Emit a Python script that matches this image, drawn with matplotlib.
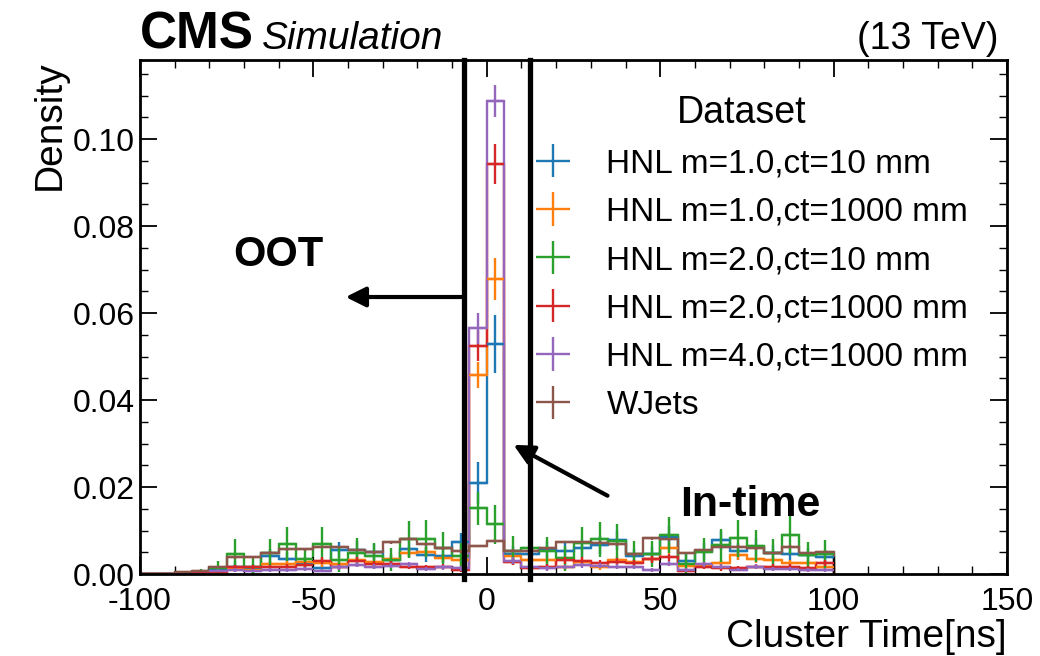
import numpy as np
import matplotlib
matplotlib.use("Agg")
import matplotlib.pyplot as plt

plt.rcParams['font.family'] = ['Liberation Sans', 'DejaVu Sans']
plt.rcParams['axes.unicode_minus'] = False

# 40 bins of 5 ns from -100 to 100
bin_edges = np.arange(-100, 101, 5)

labels = [
    "HNL m=1.0,ct=10 mm",
    "HNL m=1.0,ct=1000 mm",
    "HNL m=2.0,ct=10 mm",
    "HNL m=2.0,ct=1000 mm",
    "HNL m=4.0,ct=1000 mm",
    "WJets",
]
colors = ["#1f77b4", "#ff7f0e", "#2ca02c", "#d62728", "#9467bd", "#8c564b"]

hnl_m1_ct10 = [0, 0, 0, 0.0003, 0.0009, 0.0017, 0.0012, 0.0041, 0.0034, 0.0026,
               0.0014, 0.0055, 0.0056, 0.0050, 0.0032, 0.0058, 0.0044, 0.0042, 0.0073, 0.0209,
               0.0529, 0.0046, 0.0046, 0.0056, 0.0054, 0.0059, 0.0066, 0.0078, 0.0041, 0.0045,
               0.0086, 0.0031, 0.0052, 0.0078, 0.0052, 0.0062, 0.0048, 0.0047, 0.0043, 0.0040]
hnl_m1_ct1000 = [0, 0, 0, 0.0002, 0.0005, 0.0012, 0.0010, 0.0022, 0.0022, 0.0028,
                 0.0026, 0.0024, 0.0032, 0.0028, 0.0034, 0.0049, 0.0050, 0.0037, 0.0032, 0.0458,
                 0.0678, 0.0041, 0.0032, 0.0033, 0.0015, 0.0028, 0.0015, 0.0032, 0.0027, 0.0034,
                 0.0059, 0.0018, 0.0021, 0.0025, 0.0044, 0.0034, 0.0033, 0.0025, 0.0025, 0.0017]
hnl_m2_ct10 = [0, 0, 0, 0.0002, 0.0013, 0.0046, 0.0016, 0.0048, 0.0069, 0.0035,
               0.0069, 0.0033, 0.0049, 0.0041, 0.0033, 0.0080, 0.0081, 0.0059, 0.0042, 0.0151,
               0.0114, 0.0054, 0.0059, 0.0052, 0.0036, 0.0072, 0.0080, 0.0075, 0.0045, 0.0046,
               0.0090, 0.0023, 0.0050, 0.0066, 0.0082, 0.0064, 0.0049, 0.0090, 0.0043, 0.0046]
hnl_m2_ct1000 = [0, 0, 0, 0.0002, 0.0004, 0.0015, 0.0015, 0.0015, 0.0016, 0.0021,
                 0.0030, 0.0016, 0.0030, 0.0024, 0.0022, 0.0017, 0.0015, 0.0017, 0.0010, 0.0525,
                 0.0944, 0.0028, 0.0014, 0.0016, 0.0032, 0.0031, 0.0025, 0.0028, 0.0025, 0.0034,
                 0.0038, 0.0008, 0.0017, 0.0013, 0.0013, 0.0017, 0.0017, 0.0017, 0.0013, 0.0025]
hnl_m4_ct1000 = [0, 0, 0, 0.0001, 0.0008, 0.0009, 0.0008, 0.0009, 0.0009, 0.0012,
                 0.0008, 0.0015, 0.0021, 0.0017, 0.0019, 0.0022, 0.0012, 0.0015, 0.0013, 0.0565,
                 0.1088, 0.0031, 0.0015, 0.0013, 0.0016, 0.0020, 0.0019, 0.0017, 0.0016, 0.0009,
                 0.0024, 0.0009, 0.0022, 0.0017, 0.0010, 0.0017, 0.0012, 0.0012, 0.0009, 0.0009]
wjets = [0, 0, 0.0004, 0.0008, 0.0016, 0.0038, 0.0038, 0.0049, 0.0057, 0.0057,
         0.0062, 0.0062, 0.0055, 0.0050, 0.0073, 0.0081, 0.0068, 0.0059, 0.0052, 0.0064,
         0.0076, 0.0054, 0.0054, 0.0059, 0.0074, 0.0074, 0.0072, 0.0068, 0.0045, 0.0082,
         0.0080, 0.0048, 0.0055, 0.0063, 0.0063, 0.0059, 0.0048, 0.0063, 0.0048, 0.0051]

# vertical error bars
err_m1_ct10 = [0, 0, 0, 0.0005, 0.0008, 0.0012, 0.0010, 0.0017, 0.0016, 0.0014,
               0.0010, 0.0019, 0.0019, 0.0018, 0.0015, 0.0019, 0.0017, 0.0017, 0.0021, 0.0048,
               0.0067, 0.0018, 0.0018, 0.0019, 0.0019, 0.0020, 0.0021, 0.0022, 0.0017, 0.0017,
               0.0024, 0.0015, 0.0019, 0.0022, 0.0019, 0.0020, 0.0018, 0.0018, 0.0017, 0.0016]
err_m1_ct1000 = [0, 0, 0, 0.0002, 0.0004, 0.0006, 0.0005, 0.0008, 0.0008, 0.0009,
                 0.0009, 0.0008, 0.0009, 0.0009, 0.0010, 0.0011, 0.0011, 0.0010, 0.0009, 0.0030,
                 0.0048, 0.0010, 0.0009, 0.0009, 0.0006, 0.0009, 0.0006, 0.0009, 0.0008, 0.0009,
                 0.0012, 0.0007, 0.0008, 0.0008, 0.0011, 0.0009, 0.0009, 0.0008, 0.0008, 0.0007]
err_m2_ct10 = [0, 0, 0, 0.0010, 0.0017, 0.0035, 0.0018, 0.0033, 0.0040, 0.0025,
               0.0040, 0.0028, 0.0033, 0.0030, 0.0027, 0.0043, 0.0043, 0.0037, 0.0030, 0.0038,
               0.0044, 0.0034, 0.0040, 0.0034, 0.0029, 0.0036, 0.0040, 0.0040, 0.0031, 0.0031,
               0.0042, 0.0022, 0.0033, 0.0038, 0.0042, 0.0037, 0.0032, 0.0044, 0.0030, 0.0032]
err_m2_ct1000 = [0, 0, 0, 0.0002, 0.0003, 0.0006, 0.0006, 0.0006, 0.0006, 0.0007,
                 0.0008, 0.0006, 0.0008, 0.0007, 0.0007, 0.0006, 0.0006, 0.0006, 0.0005, 0.0036,
                 0.0046, 0.0008, 0.0006, 0.0006, 0.0008, 0.0008, 0.0007, 0.0008, 0.0007, 0.0008,
                 0.0009, 0.0004, 0.0006, 0.0005, 0.0005, 0.0006, 0.0006, 0.0006, 0.0005, 0.0007]
err_m4_ct1000 = [0, 0, 0, 0.0001, 0.0004, 0.0004, 0.0004, 0.0004, 0.0004, 0.0005,
                 0.0004, 0.0005, 0.0006, 0.0005, 0.0006, 0.0006, 0.0005, 0.0005, 0.0005, 0.0035,
                 0.0036, 0.0007, 0.0005, 0.0005, 0.0005, 0.0006, 0.0006, 0.0005, 0.0005, 0.0004,
                 0.0006, 0.0004, 0.0006, 0.0005, 0.0004, 0.0005, 0.0005, 0.0005, 0.0004, 0.0004]
err_wjets = [0, 0, 0.0002, 0.0002, 0.0002, 0.0003, 0.0003, 0.0003, 0.0003, 0.0003,
             0.0003, 0.0003, 0.0003, 0.0003, 0.0003, 0.0003, 0.0003, 0.0003, 0.0003, 0.0003,
             0.0003, 0.0003, 0.0003, 0.0003, 0.0003, 0.0003, 0.0003, 0.0003, 0.0003, 0.0003,
             0.0003, 0.0003, 0.0003, 0.0003, 0.0003, 0.0003, 0.0003, 0.0003, 0.0003, 0.0003]

values = [hnl_m1_ct10, hnl_m1_ct1000, hnl_m2_ct10, hnl_m2_ct1000, hnl_m4_ct1000, wjets]
errors = [err_m1_ct10, err_m1_ct1000, err_m2_ct10, err_m2_ct1000, err_m4_ct1000, err_wjets]

fig = plt.figure(figsize=(10.4, 6.56), dpi=100)
ax = fig.add_axes([0.1346, 0.125, 0.8337, 0.7835])

centers = 0.5 * (bin_edges[1:] + bin_edges[:-1])
half_w = 0.5 * np.diff(bin_edges)
for vals, errs, col, lab in zip(values, errors, colors, labels):
    vals = np.array(vals)
    ax.stairs(vals, bin_edges, color=col, lw=1.7)
    ax.errorbar(centers, vals, xerr=half_w, yerr=errs, fmt='none',
                ecolor=col, elinewidth=1.7, label=lab)

ax.set_xlim(-100, 150)
ax.set_ylim(0, 0.1182)
ax.set_xticks([-100, -50, 0, 50, 100, 150])
ax.set_xticks(np.arange(-100, 151, 10), minor=True)
ax.set_yticks([0, 0.02, 0.04, 0.06, 0.08, 0.10])
ax.set_yticklabels(["0.00", "0.02", "0.04", "0.06", "0.08", "0.10"])
ax.set_yticks(np.arange(0, 0.118, 0.005), minor=True)
ax.tick_params(which='both', direction='in', top=True, right=True, labelsize=23)
ax.tick_params(which='major', length=12, width=1.3)
ax.tick_params(which='minor', length=6, width=1.0)
ax.tick_params(axis='x', which='major', pad=9)
for sp in ax.spines.values():
    sp.set_linewidth(2)

ax.set_ylabel("Density", loc='top', fontsize=28)
ax.set_xlabel("Cluster Time[ns]", loc='right', fontsize=28, labelpad=2)

ax.text(0.0, 1.022, "CMS", transform=ax.transAxes, fontsize=37,
        fontweight='bold', va='baseline', ha='left')
ax.text(0.1407, 1.022, "Simulation", transform=ax.transAxes, fontsize=28,
        style='italic', va='baseline', ha='left')
ax.text(0.99, 1.022, "(13 TeV)", transform=ax.transAxes, fontsize=27,
        va='baseline', ha='right')

leg = ax.legend(title="Dataset", loc='upper right', bbox_to_anchor=(0.99, 0.99),
                frameon=False, fontsize=24, title_fontsize=27,
                handlelength=2.3, handletextpad=0.45, labelspacing=0.52)

# time window lines and annotations
for xv in (-6.5, 12.5):
    ax.plot([xv, xv], [-0.01, 1.0], color='black', lw=3.8,
            transform=ax.get_xaxis_transform(), clip_on=False, zorder=5)

ax.annotate("", xy=(-41.5, 0.0637), xytext=(-6.5, 0.0637),
            arrowprops=dict(arrowstyle='-|>', lw=3, color='black', mutation_scale=30))
ax.text(-60, 0.0733, "OOT", fontsize=30, fontweight='bold', ha='center', va='center')
ax.annotate("", xy=(7.0, 0.0300), xytext=(35.5, 0.0177),
            arrowprops=dict(arrowstyle='-|>', lw=3, color='black', mutation_scale=30))
ax.text(76, 0.0159, "In-time", fontsize=31, fontweight='bold', ha='center', va='center')

fig.savefig("out.png", dpi=100)
